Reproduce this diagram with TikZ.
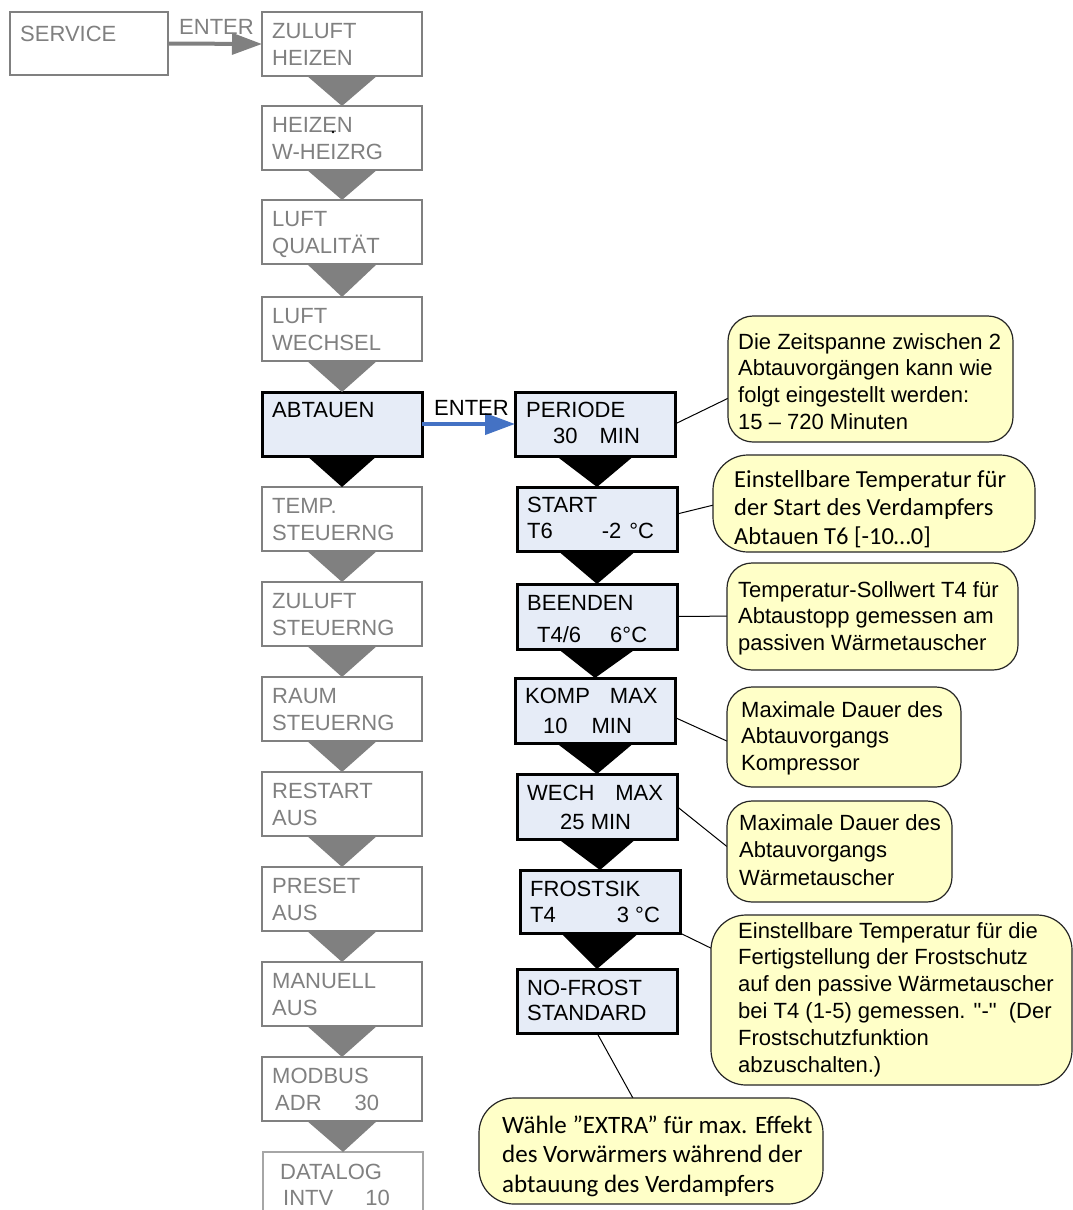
\documentclass[tikz,border=0pt]{standalone}
\usepackage{fontspec}
\setmainfont{Liberation Sans}
\newfontfamily\calfont{Carlito}
\usetikzlibrary{arrows.meta}
\definecolor{gr}{HTML}{808080}
\definecolor{lgr}{HTML}{A6A6A6}
\definecolor{bfill}{HTML}{E6ECF7}
\definecolor{yfill}{HTML}{FFFFC8}
\definecolor{barrow}{HTML}{4472C4}
\newcommand\sq{\XeTeXglyph\XeTeXcharglyph"0022\relax}
\begin{document}
\begin{tikzpicture}[x=1pt,y=-1pt,
  gbox/.style={draw=gr, line width=2.5pt, fill=white, minimum width=160pt, minimum height=64pt, inner sep=0pt, outer sep=0pt, anchor=north west},
  kbox/.style={draw=black, line width=3pt, fill=bfill, minimum width=160pt, minimum height=64pt, inner sep=0pt, outer sep=0pt, anchor=north west},
  gtxt/.style={anchor=base west, inner sep=0pt, text=gr, font=\fontsize{22}{26}\selectfont},
  ktxt/.style={anchor=base west, inner sep=0pt, text=black, font=\fontsize{22}{26}\selectfont},
  callout/.style={draw=black!85, line width=1.2pt, fill=yfill, rounded corners=25pt, inner sep=0pt, outer sep=0pt, anchor=north west},
  ctxt/.style={anchor=base west, inner sep=0pt, font=\fontsize{22}{26}\selectfont},
  cctxt/.style={anchor=base west, inner sep=0pt, font=\calfont\fontsize{24.5}{29}\selectfont},
  lead/.style={draw=black, line width=1pt},
  garrow/.style={draw=gr, line width=4pt, -{Triangle[length=30pt,width=21pt]}},
  barr/.style={draw=barrow, line width=4pt, -{Triangle[length=30pt,width=21pt]}}
]
\useasboundingbox (0,0) rectangle (1073,1210);
\clip (0,0) rectangle (1073,1210);
\fill[white] (0,0) rectangle (1073,1210);

% SERVICE
\node[gbox, minimum width=158pt, minimum height=63pt] (service) at (10,12) {};
\node[gtxt] (service-a) at (20,41) {SERVICE};
\node[gtxt] (enter1) at (179,34) {ENTER};

% left column
\foreach \n/\y/\a/\b in {l1/12/ZULUFT/HEIZEN, l2/106/HEIZEN/W-HEIZRG, l3/200/LUFT/QUALITÄT, l4/297/LUFT/WECHSEL, l6/487/TEMP./STEUERNG, l7/582/ZULUFT/STEUERNG, l8/677/RAUM/STEUERNG, l9/772/RESTART/AUS, l10/867/PRESET/AUS, l11/962/MANUELL/AUS, l12/1057/MODBUS/{\hspace*{3pt}ADR\hspace{33pt}30}}
{
  \node[gbox] (\n) at (262,\y) {};
  \node[gtxt] (\n-a) at (272,\y+26) {\a};
  \node[gtxt] (\n-b) at (272,\y+53) {\b};
}
\node[kbox] (l5) at (262,392) {};
\node[ktxt] (l5-a) at (272,417) {ABTAUEN};
\node[gbox, draw=lgr, line width=1.5pt, minimum height=90pt] (l13) at (263,1152) {};
\node[gtxt] (l13-a) at (280,1179) {DATALOG};
\node[gtxt] (l13-b) at (283,1205) {INTV\hspace{32pt}10};
\fill[black] (333,132) circle (1.3pt);

\foreach \a/\b in {l1/l2, l2/l3, l3/l4, l4/l5, l6/l7, l7/l8, l8/l9, l9/l10, l10/l11, l11/l12, l12/l13}
  \fill[gr] ([xshift=-36pt,yshift=1pt]\a.south) -- ([xshift=36pt,yshift=1pt]\a.south) -- (\b.north) -- cycle;
\fill[black] ([xshift=-36pt,yshift=1pt]l5.south) -- ([xshift=36pt,yshift=1pt]l5.south) -- (l6.north) -- cycle;

% right column
\node[kbox] (p1) at (515,392) {};
\node[ktxt] (p1-a) at (526,417) {PERIODE};
\node[ktxt] (p1-b) at (526,443) {\hspace*{27pt}30\hspace{22pt}MIN};
\node[kbox] (p2) at (517,487) {};
\node[ktxt] (p2-a) at (527,512) {START};
\node[ktxt] (p2-b) at (527,538) {T6\hspace{49pt}-2\hspace{8pt}°C};
\node[kbox, minimum height=65pt] (p3) at (517,584) {};
\node[ktxt] (p3-a) at (527,610) {BEENDEN};
\node[ktxt] (p3-b) at (527,642) {\hspace*{10pt}T4/6\hspace{29pt}6°C};
\node[kbox, minimum height=65pt] (p4) at (515,678) {};
\node[ktxt] (p4-a) at (525,703) {KOMP\hspace{20pt}MAX};
\node[ktxt] (p4-b) at (525,733) {\hspace*{18pt}10\hspace{24pt}MIN};
\node[kbox, minimum height=65pt] (p5) at (517,774) {};
\node[ktxt] (p5-a) at (527,800) {WECH\hspace{21pt}MAX};
\node[ktxt] (p5-b) at (527,829) {\hspace*{33pt}25 MIN};
\node[kbox, minimum height=63pt] (p6) at (520,870) {};
\node[ktxt] (p6-a) at (530,896) {FROSTSIK};
\node[ktxt] (p6-b) at (530,922) {T4\hspace{61pt}3 °C};
\node[kbox] (p7) at (517,969) {};
\node[ktxt] (p7-a) at (527,995) {NO-FROST};
\node[ktxt] (p7-b) at (527,1020) {STANDARD};

\foreach \a/\b in {p1/p2, p2/p3, p3/p4, p4/p5, p5/p6, p6/p7}
  \fill[black] ([xshift=-40pt,yshift=1pt]\a.south) -- ([xshift=40pt,yshift=1pt]\a.south) -- (\b.north) -- cycle;

% arrows
\draw[garrow] (service.east) -- (l1.west);
\draw[barr] (l5.east) -- (p1.west);
\node[ktxt] (enter2) at (434,415) {ENTER};

% leads
\draw[lead] (p1.east) -- (741,392);
\draw[lead] ([yshift=5pt]p2.east) -- (730,501);
\draw[lead] (p3.east) -- (740,616);
\draw[lead] ([yshift=-7pt]p4.east) -- (740,747);
\draw[lead] (p5.east) -- (740,857);
\draw[lead] (p6.south east) -- (725,955);
\draw[lead] (p7.south) -- (634,1100);

% callouts
\node[callout, minimum width=285pt, minimum height=126pt] (c1) at (728,316) {};
\foreach \t [count=\i from 0] in {Die Zeitspanne zwischen 2, Abtauvorgängen kann wie, folgt eingestellt werden:, 15 – 720 Minuten}
  \node[ctxt] (c1-\i) at (738,349+26.7*\i) {\t};

\node[callout, rounded corners=35pt, minimum width=322pt, minimum height=97pt] (c2) at (713,455) {};
\foreach \t [count=\i from 0] in {Einstellbare Temperatur für, der Start des Verdampfers, Abtauen T6 [-10…0]}
  \node[cctxt] (c2-\i) at (734,487+28.5*\i) {\t};

\node[callout, minimum width=291pt, minimum height=107pt] (c3) at (727,563) {};
\foreach \t [count=\i from 0] in {Temperatur-Sollwert T4 für, Abtaustopp gemessen am, passiven Wärmetauscher}
  \node[ctxt] (c3-\i) at (738,597+26.5*\i) {\t};

\node[callout, minimum width=234pt, minimum height=100pt] (c4) at (727,687) {};
\foreach \t [count=\i from 0] in {Maximale Dauer des, Abtauvorgangs, Kompressor}
  \node[ctxt] (c4-\i) at (741,717+26.5*\i) {\t};

\node[callout, minimum width=225pt, minimum height=101pt] (c5) at (727,801) {};
\foreach \t [count=\i from 0] in {Maximale Dauer des, Abtauvorgangs, Wärmetauscher}
  \node[ctxt] (c5-\i) at (739,830+27.5*\i) {\t};

\node[callout, rounded corners=35pt, minimum width=361pt, minimum height=170pt] (c6) at (711,915) {};
\foreach \t [count=\i from 0] in {Einstellbare Temperatur für die, Fertigstellung der Frostschutz, auf den passive Wärmetauscher, bei T4 (1-5) gemessen. \sq-\sq\ \ (Der, Frostschutzfunktion, abzuschalten.)}
  \node[ctxt] (c6-\i) at (738,938+26.8*\i) {\t};

\node[callout, rounded corners=35pt, minimum width=344pt, minimum height=106pt] (c7) at (479,1098) {};
\foreach \t [count=\i from 0] in {Wähle ”EXTRA” für max. Effekt, des Vorwärmers während der, abtauung des Verdampfers}
  \node[cctxt, font=\calfont\fontsize{25}{29}\selectfont] (c7-\i) at (502,1133+29.5*\i) {\t};
\end{tikzpicture}
\end{document}
